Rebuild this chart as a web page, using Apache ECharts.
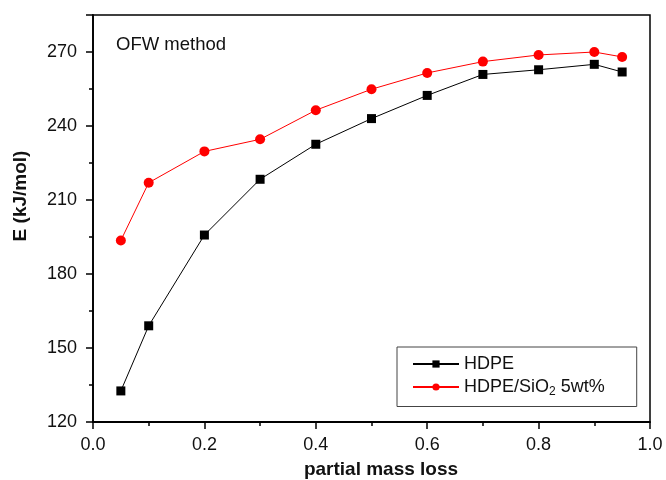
<!DOCTYPE html>
<html><head><meta charset="utf-8">
<script src="https://cdn.jsdelivr.net/npm/echarts@6/dist/echarts.min.js"></script>
<style>html,body{margin:0;padding:0;background:#fff}#c{width:666px;height:480px}</style>
</head><body><div id="c"></div>
<script>
const xValues = [0.05, 0.1, 0.2, 0.3, 0.4, 0.5, 0.6, 0.7, 0.8, 0.9, 0.95];
const hdpe = [132.6, 159, 195.8, 218.4, 232.6, 243, 252.4, 260.9, 262.8, 265, 261.9];
const hdpeSiO2 = [193.6, 217, 229.7, 234.6, 246.4, 254.9, 261.5, 266.1, 268.8, 270, 268];
const seriesNames = ['HDPE', 'HDPE/SiO2 5wt%'];
const xTicks = [0, 0.2, 0.4, 0.6, 0.8, 1.0];
const yTicks = [120, 150, 180, 210, 240, 270];

const font = 'Liberation Sans, Arial, sans-serif';
const chart = echarts.init(document.getElementById('c'));
chart.setOption({
  animation: false,
  backgroundColor: '#fff',
  grid: {left: 93, right: 16, top: 15, bottom: 58, show: true, borderColor: '#000', borderWidth: 1.5},
  xAxis: {
    type: 'value', min: xTicks[0], max: xTicks[xTicks.length-1], interval: 0.2,
    axisLine: {lineStyle: {color: '#000', width: 1.8}},
    axisTick: {inside: false, length: 7, lineStyle: {color: '#000', width: 1.5}},
    minorTick: {show: true, splitNumber: 2, length: 4, lineStyle: {color: '#000', width: 1.5}},
    splitLine: {show: false},
    axisLabel: {fontFamily: font, fontSize: 18, color: '#111', margin: 14, formatter: v => v.toFixed(1)}
  },
  yAxis: {
    type: 'value', min: yTicks[0], max: 285, interval: 30,
    axisLine: {lineStyle: {color: '#000', width: 1.8}},
    axisTick: {inside: false, length: 7, lineStyle: {color: '#000', width: 1.5}},
    minorTick: {show: true, splitNumber: 2, length: 4, lineStyle: {color: '#000', width: 1.5}},
    splitLine: {show: false},
    axisLabel: {fontFamily: font, fontSize: 18, color: '#111', margin: 16,
      formatter: v => (yTicks.indexOf(v) >= 0 ? String(v) : '')}
  },
  legend: {
    left: 397, top: 347, orient: 'vertical',
    padding: [8, 32, 9, 15], itemGap: 5,
    borderColor: '#444', borderWidth: 1,
    itemWidth: 46, itemHeight: 9,
    textStyle: {fontFamily: font, fontSize: 18, color: '#111', padding: [0, 0, 0, 0],
      rich: {sub: {fontFamily: font, fontSize: 12, verticalAlign: 'bottom', padding: [9, 0, 0, 0], color: '#111'}}},
    formatter: n => n === seriesNames[1] ? 'HDPE/SiO{sub|2} 5wt%' : n,
    data: seriesNames
  },
  graphic: [
    {type: 'text', x: 116, y: 45, style: {text: 'OFW method', font: '18.5px ' + font, fill: '#111', textVerticalAlign: 'middle'}},
    {type: 'text', x: 381, y: 470, style: {text: 'partial mass loss', font: 'bold 19px ' + font, fill: '#111', textAlign: 'center', textVerticalAlign: 'middle'}},
    {type: 'text', x: 21, y: 196, rotation: Math.PI / 2, style: {text: 'E (kJ/mol)', font: 'bold 19px ' + font, fill: '#111', textAlign: 'center', textVerticalAlign: 'middle'}}
  ],
  series: [
    {name: seriesNames[0], type: 'line', data: xValues.map((x, i) => [x, hdpe[i]]),
     symbol: 'rect', symbolSize: 9, color: '#000', lineStyle: {color: '#000', width: 1},
     itemStyle: {color: '#000'}},
    {name: seriesNames[1], type: 'line', data: xValues.map((x, i) => [x, hdpeSiO2[i]]),
     symbol: 'circle', symbolSize: 10, color: '#ff0000', lineStyle: {color: '#ff0000', width: 1},
     itemStyle: {color: '#ff0000'}}
  ]
});
</script></body></html>
